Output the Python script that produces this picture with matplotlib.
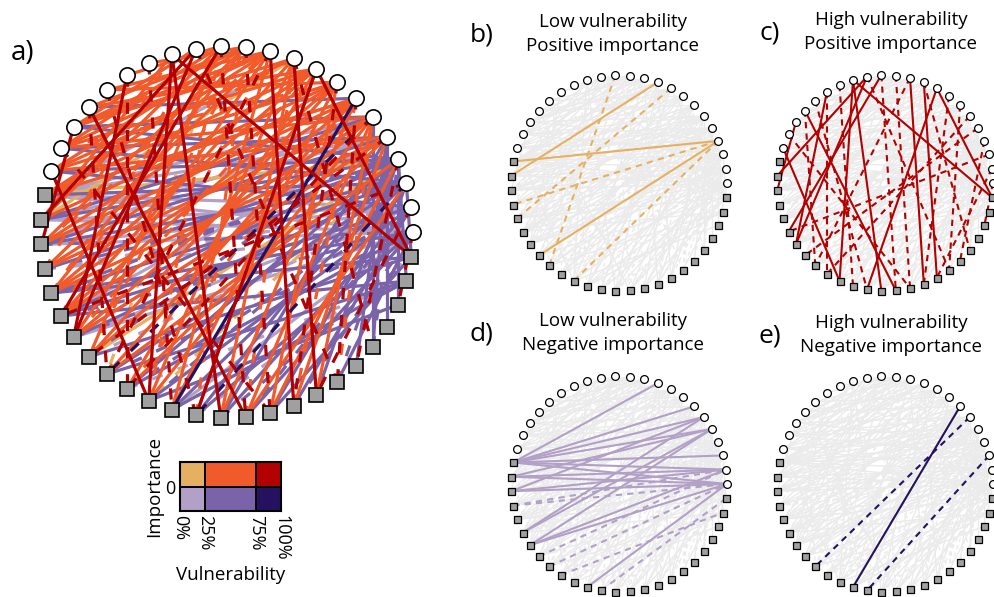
import numpy as np
import matplotlib.pyplot as plt
from matplotlib.colors import ListedColormap

plt.rcParams['font.family'] = ['Open Sans', 'DejaVu Sans']

# node 0 = right-most circle, numbering goes anticlockwise
n_circles = 22
n_squares = 25

# edges as (node, node) pairs, split by vulnerability class / sign of importance
low_pos_solid = [(22, 3), (23, 9), (29, 3)]
low_pos_dashed = [(12, 30), (8, 26), (3, 25), (3, 32)]

mid_pos_solid = [(19, 9), (19, 10), (19, 11), (20, 8), (20, 10), (20, 12), (21, 7), (21, 9),
                 (21, 11), (22, 8), (22, 10), (22, 6), (23, 7), (23, 12), (24, 6), (24, 8),
                 (24, 11), (25, 5), (25, 7), (25, 10), (26, 6), (26, 8), (26, 4), (27, 5),
                 (27, 7), (27, 9), (28, 4), (28, 6), (28, 10), (29, 5), (29, 7), (30, 3),
                 (30, 6), (31, 4), (31, 8), (32, 5), (32, 9), (33, 7), (33, 10), (34, 8),
                 (35, 6), (35, 9), (36, 2), (36, 5), (37, 3), (37, 7), (38, 4), (17, 10),
                 (18, 11), (16, 12), (18, 8), (15, 11), (17, 7), (20, 5), (21, 4), (19, 13),
                 (23, 14), (26, 11), (29, 12), (39, 5)]
mid_pos_dashed = [(20, 7), (22, 9), (24, 10), (26, 12), (28, 8), (30, 10), (32, 12), (34, 11),
                  (36, 9), (25, 14), (27, 13), (38, 6), (40, 5), (23, 13), (29, 11), (31, 6)]

high_pos_solid = [(14, 46), (14, 32), (14, 35), (12, 27), (13, 28), (13, 23), (18, 36),
                  (21, 32), (16, 28), (19, 24), (8, 34), (8, 46), (10, 38), (9, 39)]
high_pos_dashed = [(11, 37), (12, 36), (7, 38), (5, 31), (6, 40), (4, 29), (2, 27), (15, 33),
                   (16, 31), (10, 30), (17, 34), (20, 37), (3, 41), (1, 39), (13, 40), (9, 42),
                   (18, 30), (0, 44)]

low_neg_solid = [(22, 9), (22, 6), (22, 5), (22, 4), (22, 2), (22, 1), (22, 0), (23, 4),
                 (23, 1), (23, 0), (24, 5), (24, 1), (24, 0), (27, 4), (27, 5), (28, 4),
                 (28, 1), (28, 0), (33, 0)]
low_neg_dashed = [(25, 1), (25, 0), (30, 0), (34, 46), (29, 1), (31, 45)]

mid_neg_solid = [(22, 2), (23, 3), (23, 5), (24, 2), (24, 4), (25, 3), (26, 2), (26, 0),
                 (26, 46), (27, 1), (27, 3), (27, 45), (28, 2), (29, 46), (30, 2), (30, 45),
                 (31, 0), (31, 3), (32, 1), (32, 44), (33, 2), (33, 45), (34, 3), (34, 0),
                 (35, 1), (35, 4), (36, 0), (37, 2), (37, 46), (38, 1), (39, 3), (40, 0),
                 (4, 43), (4, 42), (3, 44), (4, 41), (5, 42), (3, 45), (2, 46), (20, 4),
                 (21, 3), (19, 5), (18, 6), (21, 1), (20, 2), (19, 3)]
mid_neg_dashed = [(24, 0), (26, 3), (28, 1), (30, 0), (32, 2), (36, 1), (38, 0), (40, 2),
                  (42, 3), (25, 2), (27, 0), (29, 4), (31, 1), (33, 45), (35, 46)]

high_neg_solid = [(6, 33)]
high_neg_dashed = [(5, 30), (2, 34)]

c_low_pos, c_mid_pos, c_high_pos = '#E6B062', '#F15A2B', '#B30000'
c_low_neg, c_mid_neg, c_high_neg = '#B2A0C7', '#7A63A8', '#261060'

groups = [
    (low_neg_solid, low_neg_dashed, c_low_neg),
    (low_pos_solid, low_pos_dashed, c_low_pos),
    (mid_neg_solid, mid_neg_dashed, c_mid_neg),
    (mid_pos_solid, mid_pos_dashed, c_mid_pos),
    (high_neg_solid, high_neg_dashed, c_high_neg),
    (high_pos_solid, high_pos_dashed, c_high_pos),
]

n = n_circles + n_squares
ang = np.deg2rad(np.arange(n) * 360.0 / n)
nx, ny = np.cos(ang), np.sin(ang)

W, H = 995, 597
fig = plt.figure(figsize=(W / 100, H / 100), dpi=100)


def circle_ax(cx, cy, r, pad):
    ax = fig.add_axes([(cx - pad) / W, 1 - (cy + pad) / H, 2 * pad / W, 2 * pad / H])
    ax.set_xlim(-pad / r, pad / r)
    ax.set_ylim(-pad / r, pad / r)
    ax.axis('off')
    return ax


def draw_edges(ax, edges, color, lw, ls):
    for a, b in edges:
        ax.plot([nx[a], nx[b]], [ny[a], ny[b]], color=color, lw=lw, ls=ls, zorder=2)


def draw_nodes(ax, ms, mew):
    ax.plot(nx[:n_circles], ny[:n_circles], 'o', ms=ms, mfc='white', mec='black', mew=mew,
            zorder=5, clip_on=False)
    ax.plot(nx[n_circles:], ny[n_circles:], 's', ms=ms * 0.9, mfc='#A0A0A0', mec='black',
            mew=mew, zorder=5, clip_on=False)


# a) full network
ax = circle_ax(227, 232, 186, 215)
for solid, dashed, col in groups:
    draw_edges(ax, dashed, col, 2.3, (0, (3.5, 5)))
    draw_edges(ax, solid, col, 2.3, '-')
draw_nodes(ax, 11, 1.2)
fig.text(23 / W, 1 - 53 / H, 'a)', fontsize=20, ha='center', va='center')

# b) - e) one class each on a grey background
panels = [
    ('b)', 'Low vulnerability\nPositive importance', 619, 183, 482, 35, 613, groups[1]),
    ('c)', 'High vulnerability\nPositive importance', 885, 183, 770, 33, 891, groups[5]),
    ('d)', 'Low vulnerability\nNegative importance', 619, 484, 481, 334, 613, groups[0]),
    ('e)', 'High vulnerability\nNegative importance', 885, 484, 770, 336, 891, groups[4]),
]
for lab, title, cx, cy, lx, ly, tx, (solid, dashed, col) in panels:
    ax = circle_ax(cx, cy, 108, 118)
    for s, d, c in groups:
        draw_edges(ax, d, '#EBEBEB', 1.0, (0, (3, 2.5)))
        draw_edges(ax, s, '#EBEBEB', 1.0, '-')
    draw_edges(ax, dashed, col, 1.5, (0, (3, 2.5)))
    draw_edges(ax, solid, col, 1.5, '-')
    draw_nodes(ax, 5.6, 0.9)
    fig.text(lx / W, 1 - ly / H, lab, fontsize=19, ha='center', va='center')
    fig.text(tx / W, 1 - (ly - 1) / H, title, fontsize=13.5, ha='center', va='center',
             linespacing=1.4)

# legend grid
vuln_edges = [0, 25, 75, 100]
imp_edges = [-1, 0, 1]
legend_colors = [c_low_neg, c_mid_neg, c_high_neg, c_low_pos, c_mid_pos, c_high_pos]
lax = fig.add_axes([180 / W, 1 - 511 / H, 101 / W, 49 / H])
lax.pcolormesh(vuln_edges, imp_edges, np.arange(6).reshape(2, 3),
               cmap=ListedColormap(legend_colors), edgecolors='black', lw=1.2)
lax.set_xlim(0, 100)
lax.set_ylim(-1, 1)
for s in lax.spines.values():
    s.set_linewidth(1.5)
lax.set_xticks(vuln_edges)
lax.set_xticklabels(['0%', '25%', '75%', '100%'], rotation=-90, fontsize=13)
lax.set_yticks([0])
lax.set_yticklabels(['0'], fontsize=13)
lax.tick_params(length=0, pad=3)
lax.set_xlabel('Vulnerability', fontsize=13.5, labelpad=4)
lax.set_ylabel('Importance', fontsize=13.5, labelpad=2)

plt.savefig('out.png', dpi=100)
